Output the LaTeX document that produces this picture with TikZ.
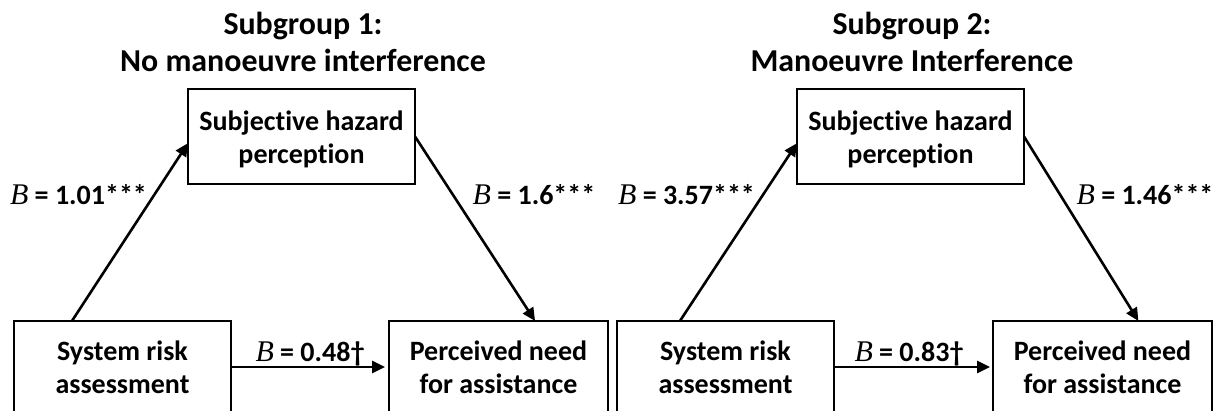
\documentclass[tikz,border=0pt]{standalone}
\usepackage{fontspec}
\setmainfont[Ligatures=NoCommon]{Carlito}
\newfontfamily\serifB{Liberation Serif}
\usetikzlibrary{arrows.meta,calc}
% italic coefficient symbol
\newcommand{\Bcoef}{{\serifB\mdseries\itshape\fontsize{30}{33}\selectfont B}}
\begin{document}
\begin{tikzpicture}[x=1pt,y=-1pt,
  every node/.style={font=\bfseries\fontsize{28}{33}\selectfont, inner sep=0pt, outer sep=0pt},
  varbox/.style={draw, line width=2.6pt, anchor=north west},
  boxtext/.style={align=center, anchor=base},
  path/.style={line width=2.6pt, -{Triangle[length=13pt,width=12pt]}},
  coef/.style={anchor=base},
  heading/.style={align=center, anchor=base, font=\bfseries\fontsize{31.9}{37}\selectfont}]
\clip (0,0) rectangle (1219,411);
\fill[white] (0,0) rectangle (1219,411);

% ---------- Subgroup 1 ----------
% (base anchors of two-line nodes sit on the last line)
\node[heading] (t1) at (303,72) {Subgroup 1:\\No manoeuvre interference};

\node[varbox, minimum width=227pt, minimum height=95pt] (hz1) at (188,89) {};
\node[varbox, minimum width=217pt, minimum height=92pt] (sr1) at (14,321) {};
\node[varbox, minimum width=219pt, minimum height=92pt] (pn1) at (389,321) {};
\node[boxtext] (hz1t) at (hz1.center |- 0,164) {Subjective hazard\\perception};
\node[boxtext] (sr1t) at (sr1.center |- 0,394) {System risk\\assessment};
\node[boxtext] (pn1t) at (pn1.center |- 0,394) {Perceived need\\for assistance};

\draw[path] ($(sr1.north west)!0.267!(sr1.north east)$) -- ($(hz1.north west)!0.57!(hz1.south west)$);
\draw[path] (hz1.east) -- ($(pn1.north west)!0.667!(pn1.north east)$);
\draw[path, shorten >=4pt] (sr1.east) -- (pn1.west);

\node[coef] (a1) at (78.5,205) {\Bcoef{} = 1.01***};
\node[coef] (b1) at (534,205) {\Bcoef{} = 1.6***};
\node[coef] (c1) at (310,362) {\Bcoef{} = 0.48†};

% ---------- Subgroup 2 ----------
\node[heading] (t2) at (912,72) {Subgroup 2:\\Manoeuvre Interference};

\node[varbox, minimum width=227pt, minimum height=95pt] (hz2) at (797,89) {};
\node[varbox, minimum width=217pt, minimum height=92pt] (sr2) at (617,321) {};
\node[varbox, minimum width=219pt, minimum height=92pt] (pn2) at (993,321) {};
\node[boxtext] (hz2t) at (hz2.center |- 0,164) {Subjective hazard\\perception};
\node[boxtext] (sr2t) at (sr2.center |- 0,394) {System risk\\assessment};
\node[boxtext] (pn2t) at (pn2.center |- 0,394) {Perceived need\\for assistance};

\draw[path] ($(sr2.north west)!0.29!(sr2.north east)$) -- ($(hz2.north west)!0.57!(hz2.south west)$);
\draw[path] (hz2.east) -- ($(pn2.north west)!0.664!(pn2.north east)$);
\draw[path, shorten >=3pt] (sr2.east) -- (pn2.west);

\node[coef] (a2) at (686.5,205) {\Bcoef{} = 3.57***};
\node[coef] (b2) at (1145,205) {\Bcoef{} = 1.46***};
\node[coef] (c2) at (909,362) {\Bcoef{} = 0.83†};
\end{tikzpicture}
\end{document}
